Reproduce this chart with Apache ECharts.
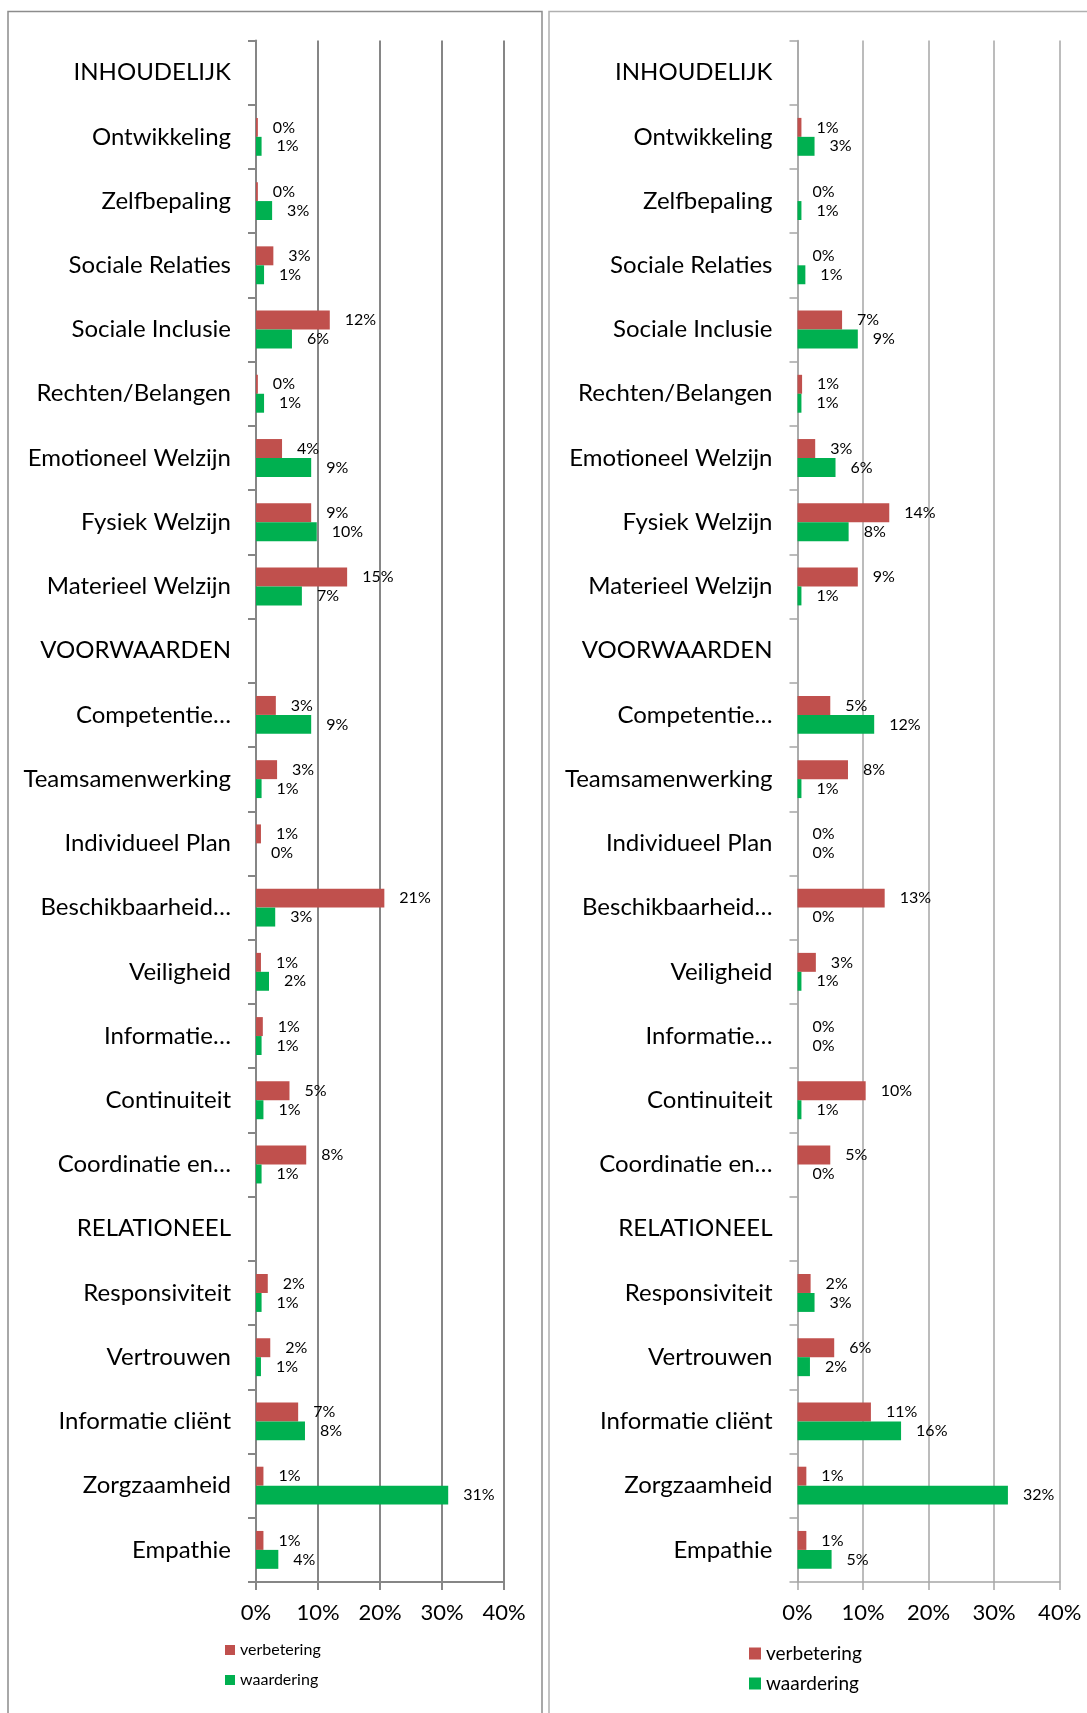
<!DOCTYPE html>
<html>
<head>
<meta charset="utf-8">
<script src="https://cdn.jsdelivr.net/npm/echarts@6/dist/echarts.min.js"></script>
<style>
html,body{margin:0;padding:0;background:#fff;}
#chart{width:1087px;height:1713px;}
</style>
</head>
<body>
<div id="chart"></div>
<script>
var categories = ['INHOUDELIJK','Ontwikkeling','Zelfbepaling','Sociale Relaties','Sociale Inclusie','Rechten/Belangen','Emotioneel Welzijn','Fysiek Welzijn','Materieel Welzijn','VOORWAARDEN','Competentie…','Teamsamenwerking','Individueel Plan','Beschikbaarheid…','Veiligheid','Informatie…','Continuiteit','Coordinatie en…','RELATIONEEL','Responsiviteit','Vertrouwen','Informatie cliënt','Zorgzaamheid','Empathie'];
var seriesNames = ['verbetering','waardering'];
var leftVerbetering = ['-',0.3,0.3,2.8,11.9,0.3,4.2,8.9,14.7,'-',3.2,3.4,0.8,20.7,0.8,1.1,5.4,8.1,'-',1.9,2.3,6.8,1.2,1.2];
var leftWaardering  = ['-',0.9,2.6,1.3,5.8,1.3,8.9,9.8,7.4,'-',8.9,0.9,0,3.1,2.1,0.9,1.2,0.9,'-',0.9,0.8,7.9,31.0,3.6];
var rightVerbetering = ['-',0.6,0,0,6.8,0.7,2.7,14.0,9.2,'-',5.0,7.7,0,13.3,2.8,0,10.4,5.0,'-',2.0,5.6,11.2,1.35,1.35];
var rightWaardering  = ['-',2.6,0.6,1.2,9.2,0.6,5.8,7.8,0.6,'-',11.7,0.6,0,0,0.6,0,0.6,0,'-',2.6,1.9,15.8,32.1,5.2];
var xTicks = {min:0, max:40, interval:10};

var RED = '#C0504D', GREEN = '#00B050';
var FONT = 'Lato';

function xAxis(gi, gridColor, gridWidth){
  return {
    type:'value', gridIndex:gi, min:xTicks.min, max:xTicks.max, interval:xTicks.interval,
    axisLine:{show:true, lineStyle:{color:gridColor, width:gridWidth}},
    axisTick:{show:true, length:8, lineStyle:{color:gridColor, width:gridWidth}},
    splitLine:{show:true, lineStyle:{color:gridColor, width:gridWidth}},
    axisLabel:{formatter:'{value}%', fontFamily:FONT, fontSize:22, color:'#000', margin:20}
  };
}
function yAxis(gi, gridColor, gridWidth){
  return {
    type:'category', gridIndex:gi, data:categories, inverse:true,
    axisLine:{show:true, lineStyle:{color:gridColor, width:gridWidth}},
    axisTick:{show:true, length:8, lineStyle:{color:gridColor, width:gridWidth}},
    axisLabel:{fontFamily:FONT, fontSize:24, color:'#000', margin:25, interval:0}
  };
}
var labelCfg = {
  show:true, position:'right', distance:15, fontFamily:FONT, fontSize:16, color:'#000',
  formatter:function(p){ return Math.round(p.value) + '%'; }
};
function bar(name, data, gi, color){
  return {
    type:'bar', name:name, data:data, xAxisIndex:gi, yAxisIndex:gi,
    barGap:'0%', barCategoryGap:'41%',
    itemStyle:{color:color}, label:labelCfg, animation:false
  };
}

var chart = echarts.init(document.getElementById('chart'), null, {renderer:'canvas'});
chart.setOption({
  animation:false,
  backgroundColor:'#fff',
  graphic:[
    {type:'rect', shape:{x:8, y:11.5, width:534, height:1720}, style:{fill:'none', stroke:'#8c8c8c', lineWidth:1.5}, silent:true},
    {type:'rect', shape:{x:549, y:11.5, width:560, height:1720}, style:{fill:'none', stroke:'#b0b0b0', lineWidth:1.5}, silent:true}
  ],
  grid:[
    {left:256, top:40.5, width:248, height:1541.5, outerBoundsMode:'none'},
    {left:797.5, top:40.5, width:262.2, height:1541.5, outerBoundsMode:'none'}
  ],
  xAxis:[xAxis(0,'#868686',2), xAxis(1,'#a6a6a6',1.5)],
  yAxis:[yAxis(0,'#868686',2), yAxis(1,'#a6a6a6',1.5)],
  legend:[
    {data:seriesNames, orient:'vertical', left:225, top:1642, padding:0, itemWidth:10, itemHeight:10, itemGap:14, icon:'rect',
     textStyle:{fontFamily:FONT, fontSize:16, color:'#000', lineHeight:16}},
    {data:seriesNames, orient:'vertical', left:749, top:1644, padding:0, itemWidth:12, itemHeight:12, itemGap:11, icon:'rect',
     textStyle:{fontFamily:FONT, fontSize:19, color:'#000', lineHeight:19}}
  ],
  series:[
    bar(seriesNames[0], leftVerbetering, 0, RED),
    bar(seriesNames[1], leftWaardering, 0, GREEN),
    bar(seriesNames[0], rightVerbetering, 1, RED),
    bar(seriesNames[1], rightWaardering, 1, GREEN)
  ]
});
</script>
</body>
</html>
